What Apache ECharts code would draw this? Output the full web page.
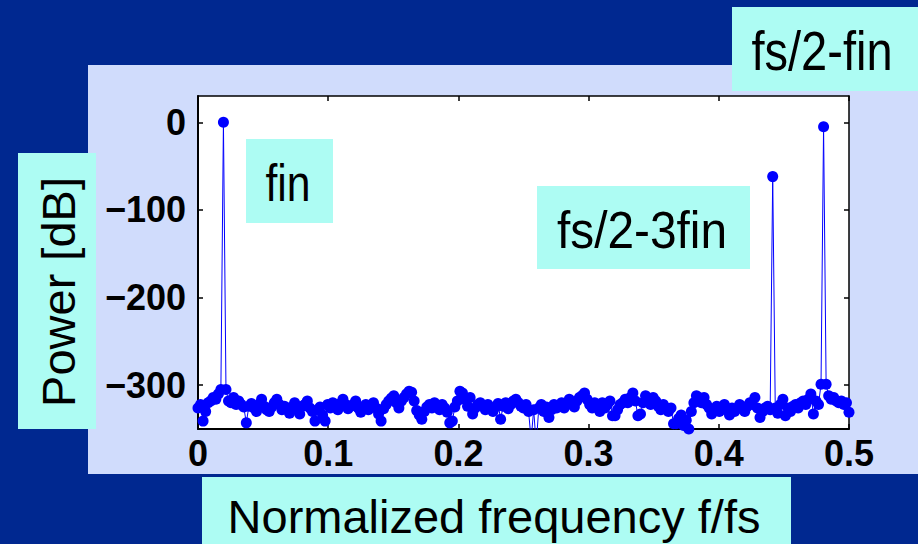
<!DOCTYPE html>
<html>
<head>
<meta charset="utf-8">
<title>Power spectrum</title>
<script src="https://cdn.jsdelivr.net/npm/echarts@6/dist/echarts.min.js"></script>
<style>
  html, body { margin: 0; padding: 0; background: #002890; }
  #chart { width: 918px; height: 544px; }
</style>
</head>
<body>
<div id="chart"></div>
<script>
// FFT bins k = 0..256 of a 512 point record, power in dB
const N_FFT = 512;
const powerDb = [
  -326, -322, -341, -330, -320, -318, -314, -316, -310, -305, 0, -305, -318, -320, -314, -322,
  -318, -322, -325, -343, -324, -321, -326, -330, -322, -316, -324, -328, -330, -325, -320, -316,
  -322, -328, -324, -326, -332, -325, -320, -327, -333, -324, -322, -318, -326, -330, -341, -328,
  -325, -334, -341, -322, -326, -320, -324, -328, -321, -316, -322, -327, -324, -322, -318, -326,
  -331, -325, -322, -328, -324, -320, -326, -333, -341, -327, -322, -318, -315, -312, -320, -326,
  -318, -314, -310, -307, -308, -318, -329, -334, -339, -330, -325, -322, -326, -320, -324, -328,
  -322, -326, -331, -343, -341, -325, -318, -307, -309, -316, -324, -314, -333, -326, -322, -320,
  -324, -328, -322, -326, -330, -325, -321, -339, -324, -320, -327, -322, -318, -316, -320, -324,
  -326, -322, -330, -362, -328, -368, -326, -322, -330, -325, -337, -328, -322, -326, -324, -320,
  -326, -322, -316, -320, -325, -318, -314, -312, -309, -316, -322, -326, -320, -324, -330, -320,
  -326, -322, -318, -335, -335, -328, -322, -320, -316, -320, -314, -309, -318, -335, -333, -320,
  -312, -316, -322, -314, -318, -324, -328, -322, -326, -330, -326, -344, -344, -338, -334, -346,
  -340, -350, -330, -320, -312, -314, -320, -314, -322, -326, -333, -328, -324, -330, -326, -322,
  -328, -334, -326, -330, -327, -322, -326, -330, -324, -320, -322, -314, -326, -337, -330, -326,
  -324, -328, -62, -326, -332, -322, -316, -335, -326, -330, -324, -322, -326, -320, -318, -322,
  -316, -310, -333, -318, -322, -299, -5, -299, -312, -316, -314, -318, -320, -318, -322, -320,
  -331
];
const yTicks = [0, -100, -200, -300];
const xTicks = [0, 0.1, 0.2, 0.3, 0.4, 0.5];

const seriesData = powerDb.map((v, k) => [k / N_FFT, v]);

const cyan = "#adfcf3";
const lavender = "#d0dcfc";
const font = "'Liberation Sans', Arial, sans-serif";

var chart = echarts.init(document.getElementById("chart"), null, { renderer: "svg" });

function minus(v) {
  return v < 0 ? "\u2212" + (-v) : String(v);
}

var tickStyle = { inside: true, length: 5, lineStyle: { color: "#000", width: 1.5 } };

var option = {
  backgroundColor: "#002890",
  animation: false,
  graphic: [
    // panels behind the plot
    { type: "rect", z: -10, shape: { x: 88, y: 65, width: 830, height: 409 }, style: { fill: lavender } },
    { type: "rect", z: -5, shape: { x: 18, y: 153, width: 78, height: 276 }, style: { fill: cyan } },
    { type: "rect", z: -5, shape: { x: 202, y: 477, width: 589, height: 70 }, style: { fill: cyan } },
    { type: "rect", z: -5, shape: { x: 732, y: 7, width: 190, height: 84 }, style: { fill: cyan } },
    // axis titles
    {
      type: "text", x: 58, y: 292, rotation: Math.PI / 2,
      style: { text: "Power [dB]", font: "47px " + font, fill: "#000", align: "center", verticalAlign: "middle" }
    },
    {
      type: "text", x: 494, y: 516,
      style: { text: "Normalized frequency f/fs", font: "47px " + font, fill: "#000", align: "center", verticalAlign: "middle" }
    },
    // peak labels
    {
      type: "text", x: 822, y: 51, scaleX: 0.855,
      style: { text: "fs/2-fin", font: "55px " + font, fill: "#000", align: "center", verticalAlign: "middle" }
    },
    {
      type: "group", z: 10,
      children: [
        { type: "rect", shape: { x: 246, y: 139, width: 87, height: 84 }, style: { fill: cyan } },
        {
          type: "text", x: 288, y: 183, scaleX: 0.82,
          style: { text: "fin", font: "52px " + font, fill: "#000", align: "center", verticalAlign: "middle" }
        },
        { type: "rect", shape: { x: 537, y: 186, width: 213, height: 83 }, style: { fill: cyan } },
        {
          type: "text", x: 642, y: 230, scaleX: 0.92,
          style: { text: "fs/2-3fin", font: "52px " + font, fill: "#000", align: "center", verticalAlign: "middle" }
        }
      ]
    }
  ],
  grid: {
    left: 198,
    right: 69,
    top: 96,
    bottom: 115,
    show: true,
    backgroundColor: "#ffffff",
    borderWidth: 0
  },
  xAxis: [
    {
      type: "value",
      min: 0,
      max: 0.5,
      interval: 0.1,
      axisLine: { show: true, onZero: false, lineStyle: { color: "#000", width: 2 } },
      axisTick: tickStyle,
      splitLine: { show: false },
      axisLabel: {
        customValues: xTicks,
        margin: 6,
        fontSize: 36,
        fontWeight: "bold",
        fontFamily: font,
        color: "#000"
      }
    },
    {
      type: "value",
      position: "top",
      min: 0,
      max: 0.5,
      interval: 0.1,
      axisLine: { show: true, onZero: false, lineStyle: { color: "#000", width: 1.5 } },
      axisTick: tickStyle,
      splitLine: { show: false },
      axisLabel: { show: false }
    }
  ],
  yAxis: [
    {
      type: "value",
      min: -350,
      max: 30,
      axisLine: { show: true, onZero: false, lineStyle: { color: "#000", width: 2 } },
      axisTick: Object.assign({ customValues: yTicks }, tickStyle),
      splitLine: { show: false },
      axisLabel: {
        customValues: yTicks,
        formatter: minus,
        margin: 12,
        fontSize: 36,
        fontWeight: "bold",
        fontFamily: font,
        color: "#000"
      }
    },
    {
      type: "value",
      position: "right",
      min: -350,
      max: 30,
      axisLine: { show: true, onZero: false, lineStyle: { color: "#000", width: 1.5 } },
      axisTick: Object.assign({ customValues: yTicks }, tickStyle),
      splitLine: { show: false },
      axisLabel: { show: false }
    }
  ],
  series: [
    {
      name: "spectrum",
      type: "line",
      data: seriesData,
      symbol: "circle",
      symbolSize: 11,
      showAllSymbol: true,
      clip: true,
      itemStyle: { color: "#0000ff" },
      lineStyle: { color: "#0000ff", width: 1 },
      emphasis: { disabled: true }
    }
  ]
};

chart.setOption(option);
</script>
</body>
</html>
